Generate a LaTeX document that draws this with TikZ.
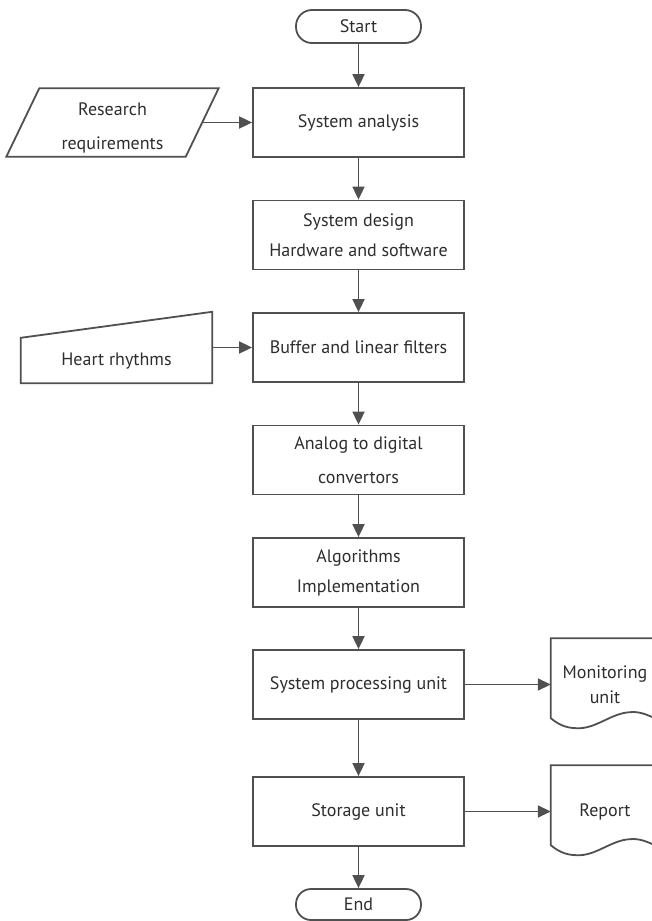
\documentclass[tikz,border=0pt]{standalone}
\usepackage{fontspec}
\setmainfont{PT Sans}
\usepackage{tikz}
\usetikzlibrary{arrows.meta,calc,positioning}
\definecolor{linegray}{RGB}{80,80,80}
\definecolor{textgray}{RGB}{45,45,45}

\begin{document}
\begin{tikzpicture}[x=1pt,y=-1pt]
	\tikzstyle{every node} = [font=\fontsize{18}{30}\selectfont, text=textgray, align=center]
	\tikzstyle{box} = [rectangle, draw=linegray, line width=1.8pt, minimum width=211, minimum height=69]
	\tikzstyle{term} = [rectangle, draw=linegray, line width=1.8pt, rounded corners=16pt, minimum width=125, minimum height=33]
	\tikzstyle{doc} = [rectangle, minimum width=108, minimum height=93]
	\tikzstyle{outline} = [draw=linegray, line width=1.8pt]
	\tikzstyle{link} = [draw=linegray, line width=1.8pt, -{Triangle[length=13pt,width=12pt]}]
\useasboundingbox (0,0) rectangle (652,921);
\node[term] (0) at (358.5, 26.5) {Start};
\node[box] (1) at (358.5, 122.5) {System analysis};
\node[box] (2) at (358.5, 235) {System design\\Hardware and software};
\node[box] (3) at (358.5, 347.5) {Buffer and linear filters};
\node[box] (4) at (358.5, 460) {Analog to digital\\[4pt]convertors};
\node[box] (5) at (358.5, 572.5) {Algorithms\\Implementation};
\node[box] (6) at (358.5, 684.5) {System processing unit};
\node[box] (7) at (358.5, 811.5) {Storage unit};
\node[term, minimum height=31, rounded corners=15pt] (8) at (358.5, 904.5) {End};
\node[rectangle, minimum width=179, minimum height=68] (9) at (112.5, 122.5) {\rule{0pt}{24pt}Research\\[4pt]requirements};
\node[rectangle, minimum width=191, minimum height=71] (10) at (116.5, 347.5) {\raisebox{-18pt}[0pt][0pt]{Heart rhythms}};
\node[doc] (12) at (605, 684.5) {Monitoring\\[-5pt]unit};
\node[doc] (13) at (605, 811.5) {Report};
	% input shapes
	\draw[outline] ($(9.south west)+(-16.5,0)$) -- ($(9.north west)+(16.5,0)$) -- ($(9.north east)+(16.5,0)$) -- ($(9.south east)+(-16.5,0)$) -- cycle;
	\draw[outline] (10.south west) -- (10.south east) -- (10.north east) -- ($(10.north west)+(0,26)$) -- cycle;
	% document shapes
	\draw[outline, shift={(12.south west)}] (0,-13) -- (0,-93) -- (108,-93) -- (108,-11) .. controls (96,-17) and (88,-20) .. (79,-19) .. controls (60,-18) and (45,-2) .. (26,-3) .. controls (14,-3) and (6,-8) .. (0,-13) -- cycle;
	\draw[outline, shift={(13.south west)}] (0,-13) -- (0,-93) -- (108,-93) -- (108,-11) .. controls (96,-17) and (88,-20) .. (79,-19) .. controls (60,-18) and (45,-2) .. (26,-3) .. controls (14,-3) and (6,-8) .. (0,-13) -- cycle;
	\path[link] (0) -- (1);
	\path[link] (1) -- (2);
	\path[link] (2) -- (3);
	\path[link] (3) -- (4);
	\path[link] (4) -- (5);
	\path[link] (5) -- (6);
	\path[link] (6) -- (7);
	\path[link] (7) -- (8);
	\path[link] (9.east) -- (1.west);
	\path[link] (10.east) -- (3.west);
	\path[link] (6.east) -- (12.west);
	\path[link] (7.east) -- (13.west);
\end{tikzpicture}
\end{document}
